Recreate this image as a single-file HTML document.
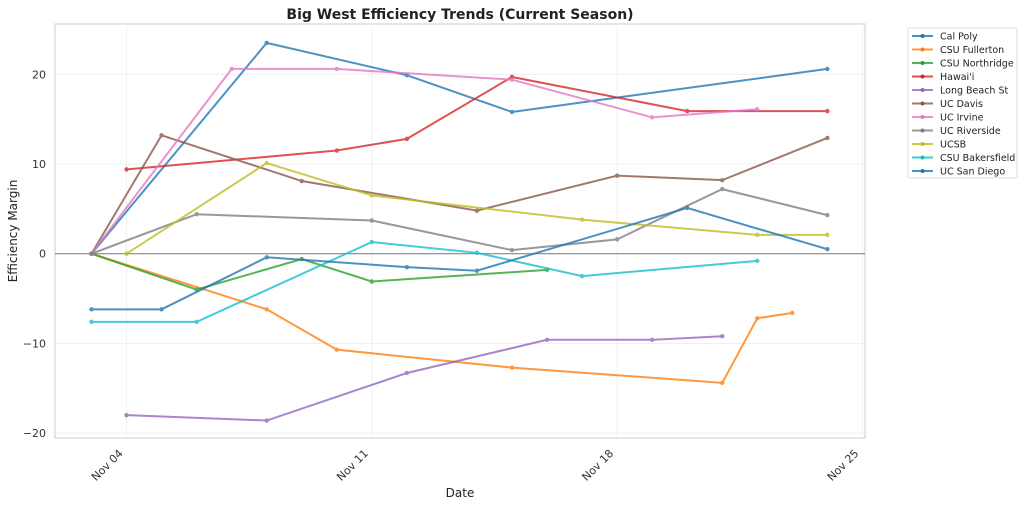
<!DOCTYPE html>
<html><head><meta charset="utf-8"><style>
body{margin:0;background:#fff;font-family:"Liberation Sans","DejaVu Sans",sans-serif;}
svg text{font-family:"DejaVu Sans","Liberation Sans",sans-serif;}
</style></head><body>
<svg id="chart" width="1024" height="506" xmlns="http://www.w3.org/2000/svg">
<rect width="1024" height="506" fill="#fff"/>
<text x="460" y="19" text-anchor="middle" font-size="14" font-weight="bold" fill="#222">Big West Efficiency Trends (Current Season)</text>
<rect x="55" y="24" width="810" height="414" fill="#fff" stroke="#ccc"/>
<g id="grid"></g><g id="series"></g><g id="ticks"></g>
<text x="460" y="497" text-anchor="middle" font-size="12" fill="#222">Date</text>
<text transform="translate(17,231) rotate(-90)" text-anchor="middle" font-size="12" fill="#222">Efficiency Margin</text>
<g id="legend"></g>
</svg>
<script>
const teams=["Cal Poly","CSU Fullerton","CSU Northridge","Hawai'i","Long Beach St","UC Davis","UC Irvine","UC Riverside","UCSB","CSU Bakersfield","UC San Diego"];
const colors=["#1f77b4","#ff7f0e","#2ca02c","#d62728","#9467bd","#8c564b","#e377c2","#7f7f7f","#bcbd22","#17becf","#1f77b4"];
// day offsets from Nov 03
const days=[
[0,5,9,12,21],
[0,5,7,12,18,19,20],
[0,3,6,8,13],
[1,7,9,12,17,21],
[1,5,9,13,16,18],
[0,2,6,11,15,18,21],
[0,4,7,12,16,19],
[0,3,8,12,15,18,21],
[1,5,8,14,19,21],
[0,3,8,11,14,19],
[0,2,5,9,11,17,21]];
const values=[
[0,23.5,19.9,15.8,20.6],
[0,-6.2,-10.7,-12.7,-14.4,-7.2,-6.6],
[0,-4.0,-0.6,-3.1,-1.8],
[9.4,11.5,12.8,19.7,15.9,15.9],
[-18.0,-18.6,-13.3,-9.6,-9.6,-9.2],
[0,13.2,8.1,4.8,8.7,8.2,12.9],
[0,20.6,20.6,19.4,15.2,16.1],
[0,4.4,3.7,0.4,1.6,7.2,4.3],
[0,10.1,6.5,3.8,2.1,2.1],
[-7.6,-7.6,1.3,0.1,-2.5,-0.8],
[-6.2,-6.2,-0.4,-1.5,-1.9,5.1,0.5]];
const yTicks=[20,10,0,-10,-20];
const yTickLabels=["20","10","0","\u221210","\u221220"];
const xTickDays=[1,8,15,22];
const xTickLabels=["Nov 04","Nov 11","Nov 18","Nov 25"];
const NS="http://www.w3.org/2000/svg";
const X=d=>91.5+d*35.04;
const Y=v=>253.7-v*8.97;
function mk(t,a,p){const e=document.createElementNS(NS,t);for(const k in a)e.setAttribute(k,a[k]);p.appendChild(e);return e;}
const grid=document.getElementById('grid'),ticks=document.getElementById('ticks'),ser=document.getElementById('series'),leg=document.getElementById('legend');
yTicks.forEach((v,i)=>{
 const g=mk('line',{x1:55,x2:865,y1:Y(v),y2:Y(v),stroke:'#ececec','stroke-width':0.8},grid);
 
 
 const t=mk('text',{x:46,y:Y(v)+4,'text-anchor':'end','font-size':11,fill:'#333'},ticks);t.textContent=yTickLabels[i];
 
 
});
xTickDays.forEach((d,i)=>{
 const g=mk('line',{x1:X(d),x2:X(d),y1:24,y2:438,stroke:'#ececec','stroke-width':0.8},grid);
 
 
 const t=mk('text',{transform:`translate(${X(d)-3},${454}) rotate(-45)`,'text-anchor':'end','font-size':11,fill:'#333'},ticks);t.textContent=xTickLabels[i];
 
 
});
const z=mk('line',{x1:55,x2:865,y1:Y(0),y2:Y(0),stroke:'#888','stroke-width':1.2},grid);


teams.forEach((n,i)=>{
 const g=mk('g',{opacity:0.8},ser);
 
 
 const pts=days[i].map((d,j)=>X(d)+','+Y(values[i][j])).join(' ');
 mk('polyline',{points:pts,fill:'none',stroke:colors[i],'stroke-width':2},g);
 days[i].forEach((d,j)=>{const c=mk('circle',{cx:X(d),cy:Y(values[i][j]),r:2.2,fill:colors[i]},g);
  
  });
});
mk('rect',{x:908,y:28,width:109,height:150,fill:'#fff',stroke:'#ddd',rx:2},leg);
teams.forEach((n,i)=>{
 const y=36+i*13.5;
 const e=mk('g',{},leg);
 
 
 mk('line',{x1:912,x2:933,y1:y,y2:y,stroke:colors[i],'stroke-width':2,opacity:0.8},e);
 mk('circle',{cx:922.5,cy:y,r:2,fill:colors[i]},e);
 const t=mk('text',{x:940,y:y+3.5,'font-size':9.5,fill:'#222'},e);t.textContent=n;
});
</script>
</body></html>
